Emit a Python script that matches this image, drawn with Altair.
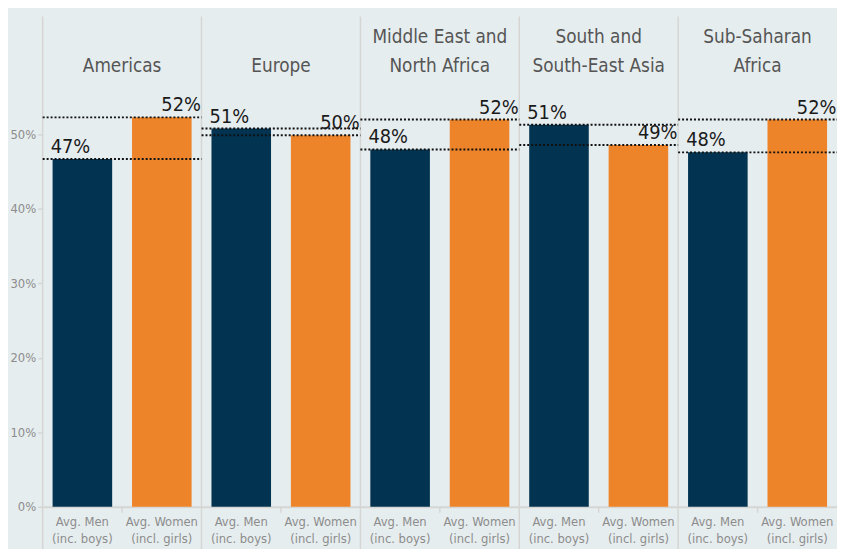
import altair as alt
import pandas as pd

# ---------------- data ----------------
regions = ["Americas", "Europe", "Middle East and North Africa",
           "South and South-East Asia", "Sub-Saharan Africa"]
header_top = ["", "", "Middle East and", "South and", "Sub-Saharan"]
header_bottom = ["Americas", "Europe", "North Africa", "South-East Asia", "Africa"]
genders = ["Avg. Men|(inc. boys)", "Avg. Women|(incl. girls)"]
men_share = [0.467, 0.508, 0.480, 0.513, 0.476]
women_share = [0.523, 0.499, 0.520, 0.486, 0.520]
y_ticks = [0, 0.1, 0.2, 0.3, 0.4, 0.5]

rows = []
for r, m, w in zip(regions, men_share, women_share):
    rows.append({"region": r, "gender": genders[0], "share": m})
    rows.append({"region": r, "gender": genders[1], "share": w})
df = pd.DataFrame(rows)
hdr = pd.DataFrame({"region": regions, "top": header_top, "bottom": header_bottom})

# ---------------- style ----------------
W, H = 802, 421
FONT = "DejaVu Sans Condensed"
NAVY, ORANGE = "#023452", "#EE842A"
LINE = "#D5D6D3"
BG = "#E6EDEF"


def xenc(band=0.5):
    return alt.X(
        "region:N", sort=regions, bandPosition=band,
        scale=alt.Scale(paddingInner=0, paddingOuter=0),
        axis=alt.Axis(labels=False, ticks=False, title=None, domain=True,
                      domainColor=LINE, domainWidth=2),
    )


xo = alt.XOffset("gender:N", sort=genders,
                 scale=alt.Scale(paddingInner=0.25, paddingOuter=0.125))
yenc = alt.Y(
    "share:Q", scale=alt.Scale(domain=[0, 0.56], nice=False),
    axis=alt.Axis(values=y_ticks, format=".0%", title=None, domain=False,
                  grid=False, tickSize=5, tickColor=LINE, tickWidth=1.5,
                  labelFont=FONT, labelFontSize=13, labelColor="#8C8C8C",
                  labelPadding=2),
)

base = alt.Chart(df)

seps = alt.Chart(hdr).mark_rule(color=LINE, strokeWidth=1.5).encode(
    x=xenc(0), y=alt.value(-74), y2=alt.value(H + 45))

mid_ticks = alt.Chart(hdr).mark_rule(color=LINE, strokeWidth=1.5).encode(
    x=xenc(0.5), y=alt.value(H), y2=alt.value(H + 6))

bars = base.mark_bar().encode(
    x=xenc(), xOffset=xo, y=yenc,
    color=alt.Color("gender:N", sort=genders,
                    scale=alt.Scale(domain=genders, range=[NAVY, ORANGE]),
                    legend=None),
)

dots = base.mark_rule(color="#111111", strokeWidth=2, strokeDash=[2, 2]).encode(
    x=xenc(0), x2=alt.X2("region:N", bandPosition=1), y=yenc)

men_txt = base.transform_filter(alt.datum.gender == genders[0]).mark_text(
    align="left", baseline="alphabetic", dx=-32, dy=-6, font=FONT,
    fontSize=20, color="#1A1A1A").encode(
    x=xenc(), xOffset=xo, y=yenc, text=alt.Text("share:Q", format=".0%"))

women_txt = base.transform_filter(alt.datum.gender == genders[1]).mark_text(
    align="right", baseline="alphabetic", dx=39.5, dy=-6, font=FONT,
    fontSize=20, color="#1A1A1A").encode(
    x=xenc(), xOffset=xo, y=yenc, text=alt.Text("share:Q", format=".0%"))

head_top = alt.Chart(hdr).mark_text(
    align="center", baseline="alphabetic", font=FONT, fontSize=19,
    color="#555555").encode(x=xenc(), y=alt.value(-47), text="top:N")

head_bottom = alt.Chart(hdr).mark_text(
    align="center", baseline="alphabetic", font=FONT, fontSize=19,
    color="#555555").encode(x=xenc(), y=alt.value(-17.5), text="bottom:N")

cat_labels = base.transform_calculate(
    lines="split(datum.gender, '|')").mark_text(
    align="center", baseline="top", font=FONT, fontSize=13,
    lineHeight=17.5, color="#8C8C8C").encode(
    x=xenc(), xOffset=xo, y=alt.value(H + 9), text="lines:N")

chart = alt.layer(
    seps, bars, dots, men_txt, women_txt, head_top, head_bottom,
    cat_labels, mid_ticks
).properties(
    width=W, height=H,
    autosize=alt.AutoSizeParams(type="none"),
    padding={"left": 35, "top": 80, "right": 0, "bottom": 40},
    background=BG,
).configure_view(stroke=None)

chart.save("out.html", embed_options={"renderer": "svg", "actions": False})
